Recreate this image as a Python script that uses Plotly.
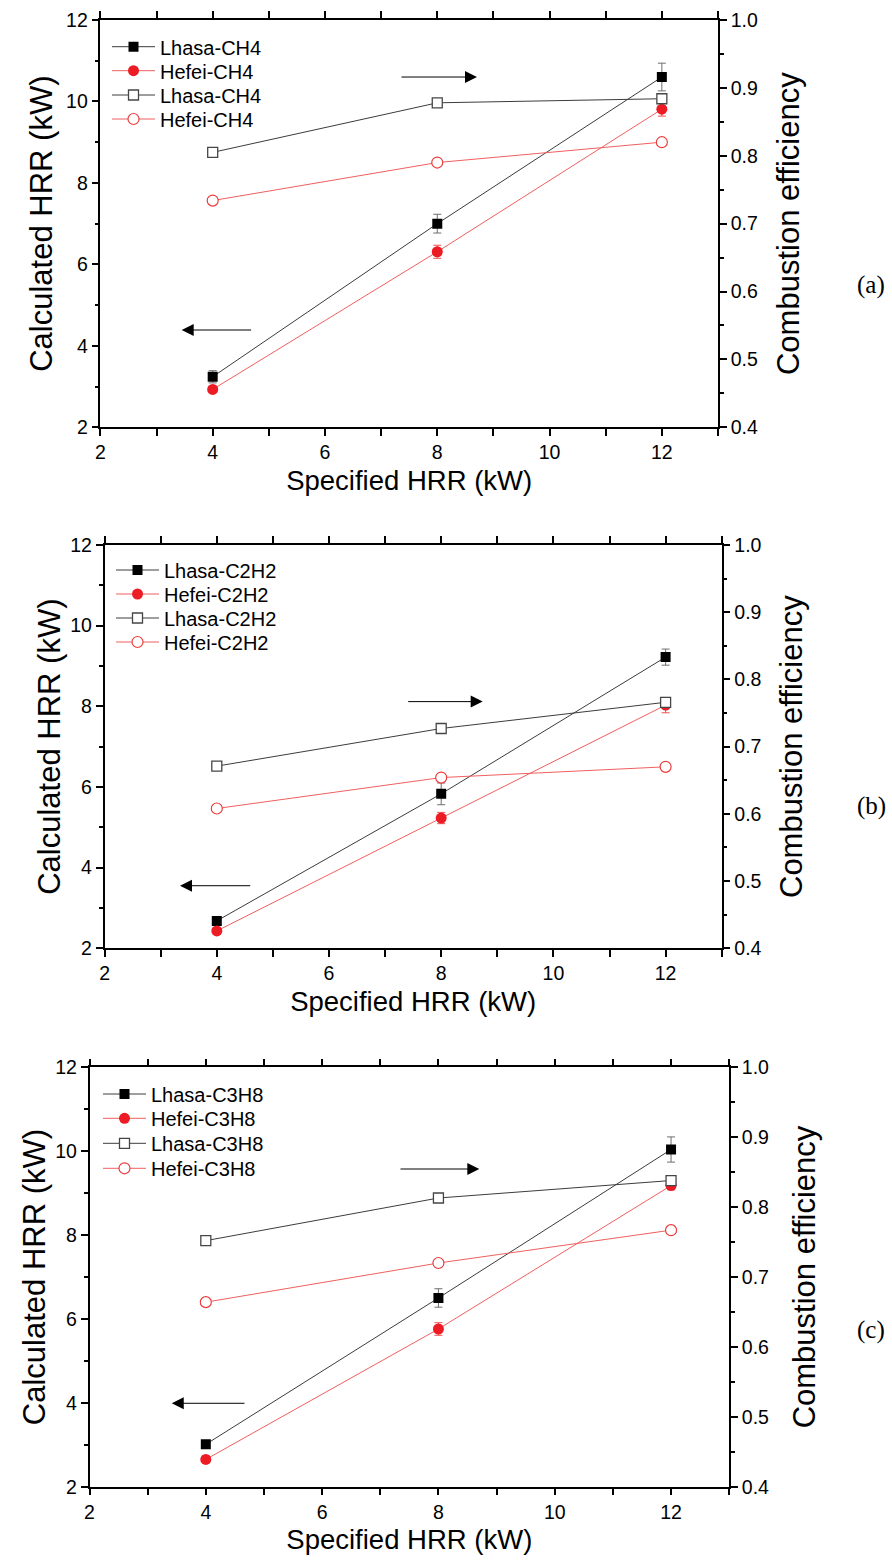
import plotly.graph_objects as go

# ---------------- data ----------------
specified_hrr = [4, 8, 12]

# (a) CH4
a_lhasa_hrr = [3.24, 7.00, 10.60]
a_lhasa_hrr_err = [0.15, 0.23, 0.34]
a_hefei_hrr = [2.93, 6.31, 9.81]
a_hefei_hrr_err = [0.08, 0.16, 0.17]
a_lhasa_eff = [0.805, 0.878, 0.884]
a_hefei_eff = [0.734, 0.790, 0.820]

# (b) C2H2
b_lhasa_hrr = [2.68, 5.83, 9.22]
b_lhasa_hrr_err = [0.08, 0.27, 0.20]
b_hefei_hrr = [2.43, 5.23, 8.03]
b_hefei_hrr_err = [0.08, 0.14, 0.19]
b_lhasa_eff = [0.671, 0.727, 0.766]
b_hefei_eff = [0.608, 0.654, 0.670]

# (c) C3H8
c_lhasa_hrr = [3.01, 6.50, 10.04]
c_lhasa_hrr_err = [0.08, 0.22, 0.30]
c_hefei_hrr = [2.65, 5.76, 9.18]
c_hefei_hrr_err = [0.08, 0.15, 0.10]
c_lhasa_eff = [0.752, 0.813, 0.838]
c_hefei_eff = [0.664, 0.720, 0.767]

fuels = ["CH4", "C2H2", "C3H8"]
panel_labels = ["(a)", "(b)", "(c)"]

# ---------------- style ----------------
BLACK_LINE = "rgb(60,60,60)"
RED = "rgb(237,28,36)"
RED_LINE = "rgb(240,95,95)"
FONT = "Liberation Sans, Arial, sans-serif"

panels = [
    dict(lh=a_lhasa_hrr, lhe=a_lhasa_hrr_err, hh=a_hefei_hrr, hhe=a_hefei_hrr_err,
         le=a_lhasa_eff, he=a_hefei_eff),
    dict(lh=b_lhasa_hrr, lhe=b_lhasa_hrr_err, hh=b_hefei_hrr, hhe=b_hefei_hrr_err,
         le=b_lhasa_eff, he=b_hefei_eff),
    dict(lh=c_lhasa_hrr, lhe=c_lhasa_hrr_err, hh=c_hefei_hrr, hhe=c_hefei_hrr_err,
         le=c_lhasa_eff, he=c_hefei_eff),
]

W, H = 892, 1560
# pixel layout of each panel: x-left(x=2), x-right(x=13), y-top(12), y-bottom(2)
boxes = [
    (100.4, 718.0, 20.0, 427.3),
    (104.6, 721.7, 545.0, 948.3),
    (89.5, 729.2, 1067.3, 1486.7),
]
left_standoff = [4, 0, 0]
right_standoff = [20, 20, 25]
# legend: left x of line sample, row centres
legend_x = [114, 118, 105]
legend_rows = [
    [46.7, 70.7, 95.0, 119.0],
    [570.0, 594.0, 618.0, 642.0],
    [1094.0, 1118.3, 1143.3, 1168.3],
]
label_pos = [(871, 285), (871, 806), (871, 1330)]
arrows = [
    dict(r=(7.336, 8.707, 0.916), l=(4.712, 3.448, 4.389)),
    dict(r=(7.385, 8.740, 0.767), l=(4.622, 3.344, 3.552)),
    dict(r=(7.322, 8.703, 0.8545), l=(4.691, 3.414, 3.989)),
]

fig = go.Figure()
annotations = []
layout = dict(
    width=W, height=H,
    margin=dict(l=0, r=0, t=0, b=0),
    paper_bgcolor="white", plot_bgcolor="white",
    font=dict(family=FONT, color="black", size=18),
    showlegend=True,
)

for i, p in enumerate(panels):
    fuel = fuels[i]
    xa = "x" if i == 0 else f"x{i+1}"
    ya = "y" if i == 0 else f"y{2*i+1}"
    ya2 = f"y{2*i+2}"
    lgs = [("legend" if 4 * i + j == 0 else f"legend{4*i+j+1}") for j in range(4)]

    common = dict(x=specified_hrr, mode="lines+markers", xaxis=xa)
    fig.add_trace(go.Scatter(
        y=p["lh"], yaxis=ya, name=f"Lhasa-{fuel}", legend=lgs[0],
        line=dict(color=BLACK_LINE, width=1),
        marker=dict(symbol="square", size=10, color="black"),
        error_y=dict(type="data", array=p["lhe"], color="rgb(110,110,110)",
                     thickness=1, width=4),
        **common))
    fig.add_trace(go.Scatter(
        y=p["hh"], yaxis=ya, name=f"Hefei-{fuel}", legend=lgs[1],
        line=dict(color=RED_LINE, width=1),
        marker=dict(symbol="circle", size=11, color=RED),
        error_y=dict(type="data", array=p["hhe"], color="rgb(240,80,80)",
                     thickness=1, width=4),
        **common))
    fig.add_trace(go.Scatter(
        y=p["le"], yaxis=ya2, name=f"Lhasa-{fuel}", legend=lgs[2],
        line=dict(color=BLACK_LINE, width=1),
        marker=dict(symbol="square", size=10, color="white",
                    line=dict(color="rgb(70,70,70)", width=1.3)),
        **common))
    fig.add_trace(go.Scatter(
        y=p["he"], yaxis=ya2, name=f"Hefei-{fuel}", legend=lgs[3],
        line=dict(color=RED_LINE, width=1),
        marker=dict(symbol="circle", size=11, color="white",
                    line=dict(color="rgb(235,60,60)", width=1.2)),
        **common))

    xl, xr, yt, yb = boxes[i]
    xdom = [xl / W, xr / W]
    ydom = [1 - yb / H, 1 - yt / H]
    axis_common = dict(
        showline=True, linecolor="black", linewidth=1.5,
        ticks="outside", ticklen=7, tickwidth=1.5, tickcolor="black",
        showgrid=False, zeroline=False, automargin=False,
        tickfont=dict(size=19.5, family=FONT),
    )
    xkey = "xaxis" if i == 0 else f"xaxis{i+1}"
    ykey = "yaxis" if i == 0 else f"yaxis{2*i+1}"
    y2key = f"yaxis{2*i+2}"
    layout[xkey] = dict(
        domain=xdom, range=[2, 13], tick0=2, dtick=2, anchor=ya,
        mirror="allticks",
        minor=dict(dtick=1, ticklen=4, tickwidth=1.5, tickcolor="black", ticks="outside"),
        title=dict(text="Specified HRR (kW)", font=dict(size=27.5, family=FONT), standoff=8),
        **axis_common)
    layout[ykey] = dict(
        domain=ydom, range=[2, 12], tick0=2, dtick=2, anchor=xa,
        minor=dict(dtick=1, ticklen=4, tickwidth=1.5, tickcolor="black", ticks="outside"),
        title=dict(text="Calculated HRR (kW)", font=dict(size=31, family=FONT),
                   standoff=left_standoff[i]),
        **axis_common)
    layout[y2key] = dict(
        domain=ydom, range=[0.4, 1.0], tick0=0.4, dtick=0.1, tickformat=".1f",
        anchor=xa, overlaying=ya, side="right",
        minor=dict(dtick=0.05, ticklen=4, tickwidth=1.5, tickcolor="black", ticks="outside"),
        title=dict(text="Combustion efficiency", font=dict(size=31, family=FONT),
                   standoff=right_standoff[i]),
        **axis_common)

    for j in range(4):
        layout[lgs[j]] = dict(
            x=(legend_x[i] - 7) / W, y=1 - legend_rows[i][j] / H,
            xanchor="left", yanchor="middle",
            bgcolor="rgba(0,0,0,0)", borderwidth=0,
            font=dict(size=20, family=FONT, color="black"),
            itemwidth=43,
        )

    # arrows
    r = arrows[i]["r"]
    l = arrows[i]["l"]
    annotations.append(dict(
        x=r[1], y=r[2], ax=r[0], ay=r[2], xref=xa, yref=ya2, axref=xa, ayref=ya2,
        text="", showarrow=True, arrowhead=2, arrowsize=2.4, arrowwidth=1,
        arrowcolor="black"))
    annotations.append(dict(
        x=l[1], y=l[2], ax=l[0], ay=l[2], xref=xa, yref=ya, axref=xa, ayref=ya,
        text="", showarrow=True, arrowhead=2, arrowsize=2.4, arrowwidth=1,
        arrowcolor="black"))
    px_, py_ = label_pos[i]
    annotations.append(dict(
        x=px_ / W, y=1 - py_ / H, xref="paper", yref="paper", showarrow=False,
        text=panel_labels[i], font=dict(size=25, family="Liberation Serif, Times New Roman, serif"),
        xanchor="center", yanchor="middle"))

layout["annotations"] = annotations
fig.update_layout(**layout)
fig.write_html("out.html", config={"displayModeBar": False},
               post_script="document.body.style.margin='0';")
